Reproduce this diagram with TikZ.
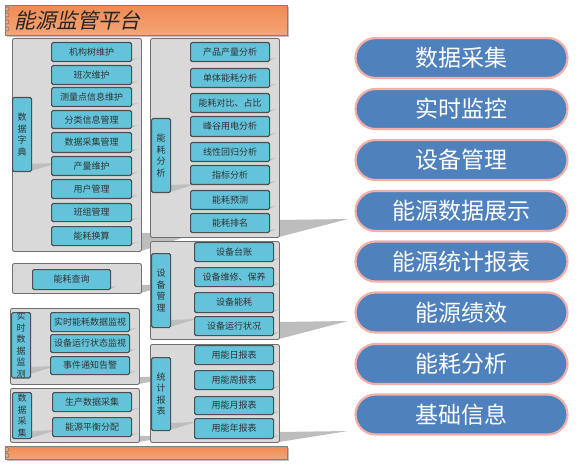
\documentclass[tikz,border=0pt]{standalone}
\usepackage{fontspec}
\newfontfamily\cjk{Noto Sans CJK SC}
\newfontfamily\cjkit[FakeSlant=0.22]{Noto Sans CJK SC}
\definecolor{grpfill}{HTML}{D9D9D9}
\definecolor{grpline}{HTML}{707070}
\definecolor{itemfill}{HTML}{62C3DA}
\definecolor{itemline}{HTML}{4F4F4F}
\definecolor{shdcol}{HTML}{BDBDBD}
\definecolor{pillfill}{HTML}{4F81BD}
\definecolor{pillline}{HTML}{F4B0A8}
\definecolor{orangetop}{HTML}{EF8A55}
\definecolor{orangebot}{HTML}{F5A676}
\tikzset{
  shd/.style={fill=shdcol},
  grp/.style={draw=grpline, fill=grpfill, line width=0.9pt, rounded corners=2pt, inner sep=0pt},
  item/.style={draw=itemline, fill=itemfill, line width=1.1pt, rounded corners=1.5pt, inner sep=0pt,
    text=black!80, font=\cjk\fontsize{9}{11}\selectfont},
  lbl/.style={item, align=center, font=\cjk\fontsize{9}{11.5}\selectfont},
  pill/.style={draw=pillline, fill=pillfill, line width=2.2pt, rounded corners=20pt, inner sep=0pt,
    minimum width=212pt, minimum height=40pt, text=white, font=\cjk\fontsize{23}{26}\selectfont},
  bar/.style={draw=black!50, line width=0.8pt, top color=orangetop, bottom color=orangebot, inner sep=0pt},
  ring/.style={draw=black!55, line width=0.5pt, fill=orangebot}
}
% style, name, x1, y1, x2, y2, shadow length, shadow height, text
\newcommand\bx[9]{%
  \fill[shd] (#5,#6-#8) -- (#5+#7,#6-#8-1) -- (#5,#6) -- cycle;
  \node[#1, anchor=north west, minimum width={#5-#3}, minimum height={#6-#4}] (#2) at (#3,#4) {#9};}
\begin{document}
\begin{tikzpicture}[x=1pt, y=-1pt]
\useasboundingbox (0,0) rectangle (578,465);
% title banner and bottom bar
\fill[black!25] (7,7) rectangle (289,37);
\node[bar, anchor=north west, minimum width=282pt, minimum height=30pt] (title) at (5,5) {};
\node[anchor=west, inner sep=0pt, font=\cjkit\fontsize{21}{24}\selectfont, text=black!85] (titletext) at (14,20) {能源监管平台};
\foreach \yy in {9,15,22,29} {\draw[ring] (7,\yy) circle (2pt);}
\fill[black!25] (7,448) rectangle (289,461);
\node[bar, anchor=north west, minimum width=282pt, minimum height=13pt] (bottombar) at (5,446) {};
\foreach \yy in {449.5,455.5} {\draw[ring] (7,\yy) circle (2pt);}
% left groups
\bx{grp}{g1}{12}{38}{141}{251}{60}{18}{}
\bx{grp}{g4}{12}{263}{141}{293}{30}{8}{}
\bx{grp}{g5}{10}{308}{139}{384}{40}{7}{}
\bx{grp}{g7}{10}{388}{139}{442}{40}{6}{}
% right groups
\bx{grp}{g2}{150}{38}{279}{237}{69}{17}{}
\bx{grp}{g3}{150}{241}{279}{339}{69}{17}{}
\bx{grp}{g6}{150}{344}{279}{442}{69}{10}{}
% group g1: 数据字典
\bx{lbl}{l1}{12}{97}{31}{171}{26}{7}{数\\据\\字\\典}
\bx{item}{a1}{51}{42}{131}{61}{7}{2}{机构树维护}
\bx{item}{a2}{51}{65}{131}{84}{7}{2}{班次维护}
\bx{item}{a3}{51}{87}{131}{106}{7}{2}{测量点信息维护}
\bx{item}{a4}{51}{110}{131}{128}{7}{2}{分类信息管理}
\bx{item}{a5}{51}{132}{131}{152}{7}{2}{数据采集管理}
\bx{item}{a6}{51}{156}{131}{175}{7}{2}{产量维护}
\bx{item}{a7}{51}{179}{131}{198}{7}{2}{用户管理}
\bx{item}{a8}{51}{203}{131}{221}{7}{2}{班组管理}
\bx{item}{a9}{51}{226}{131}{245}{7}{2}{能耗换算}
% group g2: 能耗分析
\bx{lbl}{l2}{151}{118}{170}{192}{26}{7}{能\\耗\\分\\析}
\bx{item}{b1}{190}{42}{269}{61}{7}{2}{产品产量分析}
\bx{item}{b2}{190}{68}{269}{87}{7}{2}{单体能耗分析}
\bx{item}{b3}{190}{93}{269}{112}{7}{2}{能耗对比、占比}
\bx{item}{b4}{190}{116}{269}{136}{7}{2}{峰谷用电分析}
\bx{item}{b5}{190}{142}{269}{161}{7}{2}{线性回归分析}
\bx{item}{b6}{190}{165}{269}{184}{7}{2}{指标分析}
\bx{item}{b7}{190}{190}{269}{209}{7}{2}{能耗预测}
\bx{item}{b8}{190}{213}{269}{232}{7}{2}{能耗排名}
% group g3: 设备管理
\bx{lbl}{l3}{151}{253}{170}{327}{26}{7}{设\\备\\管\\理}
\bx{item}{c1}{194}{242}{273}{261}{7}{2}{设备台账}
\bx{item}{c2}{194}{267}{273}{286}{7}{2}{设备维修、保养}
\bx{item}{c3}{194}{292}{273}{312}{7}{2}{设备能耗}
\bx{item}{c4}{194}{316}{273}{335}{7}{2}{设备运行状况}
% group g4: 能耗查询
\bx{item}{d1}{32}{269}{110}{289}{7}{2}{能耗查询}
% group g5: 实时数据监测
\bx{lbl}{l5}{11}{312}{30}{374}{26}{7}{\fontsize{8.5}{9.8}\selectfont 实\\时\\数\\据\\监\\测}
\bx{item}{e1}{50}{312}{129}{331}{7}{2}{实时能耗数据监视}
\bx{item}{e2}{50}{334}{129}{352}{7}{2}{设备运行状态监视}
\bx{item}{e3}{50}{356}{129}{374}{7}{2}{事件通知告警}
% group g6: 统计报表
\bx{lbl}{l6}{151}{357}{170}{430}{26}{7}{统\\计\\报\\表}
\bx{item}{f1}{194}{345}{273}{364}{7}{2}{用能日报表}
\bx{item}{f2}{194}{370}{273}{389}{7}{2}{用能周报表}
\bx{item}{f3}{194}{396}{273}{414}{7}{2}{用能月报表}
\bx{item}{f4}{194}{418}{273}{438}{7}{2}{用能年报表}
% group g7: 数据采集
\bx{lbl}{l7}{12}{392}{31}{438}{26}{7}{数\\据\\采\\集}
\bx{item}{h1}{52}{392}{131}{411}{7}{2}{生产数据采集}
\bx{item}{h2}{52}{417}{131}{436}{7}{2}{能源平衡分配}
% right pills
\node[pill] (p1) at (461.5,58) {数据采集};
\node[pill] (p2) at (461.5,109) {实时监控};
\node[pill] (p3) at (461.5,160) {设备管理};
\node[pill] (p4) at (461.5,211) {能源数据展示};
\node[pill] (p5) at (461.5,261.5) {能源统计报表};
\node[pill] (p6) at (461.5,312.5) {能源绩效};
\node[pill] (p7) at (461.5,364) {能耗分析};
\node[pill] (p8) at (461.5,414.5) {基础信息};
\end{tikzpicture}
\end{document}
